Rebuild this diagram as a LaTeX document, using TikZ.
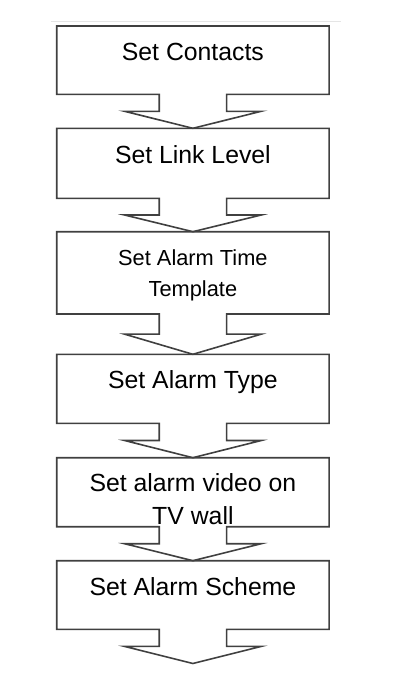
\documentclass[tikz,border=0pt]{standalone}
\usepackage{fontspec}
\setmainfont{Liberation Sans}
\usetikzlibrary{calc}
\tikzset{
  stepbox/.style={rectangle, anchor=north, minimum width=272.3pt, inner sep=0pt, outer sep=0pt},
  steptext/.style={anchor=base, align=center, inner sep=0pt, font=\fontsize{24.8}{32.3}\selectfont},
  outline/.style={draw=black!75, line width=1.6pt, line join=miter},
}
\begin{document}
\begin{tikzpicture}[x=1pt, y=-1pt]
  \useasboundingbox (0, 0) rectangle (400, 696);
  \draw[black!10, line width=0.8pt] (50.7, 21.5) -- (340.7, 21.5);

  % boxes, top to bottom
  \node (contacts) at (192.9, 26) [stepbox, minimum height=68.3pt] {};
  \node (link) at (192.9, 128.3) [stepbox, minimum height=70pt] {};
  \node (template) at (192.9, 231.7) [stepbox, minimum height=82.3pt] {};
  \node (type) at (192.9, 354.3) [stepbox, minimum height=69pt] {};
  \node (tvwall) at (192.9, 457.7) [stepbox, minimum height=69pt] {};
  \node (scheme) at (192.9, 560.7) [stepbox, minimum height=68.6pt] {};
  \node (end) at (192.9, 664) [inner sep=0pt, outer sep=0pt] {};

  % texts (base is the last line)
  \node (contactstxt) at ([yshift=-34.5pt]contacts.north) [steptext] {Set Contacts};
  \node (linktxt) at ([yshift=-34.8pt]link.north) [steptext] {Set Link Level};
  \node (templatetxt) at ([yshift=-65pt]template.north) [steptext, font=\fontsize{21.8}{31.7}\selectfont] {Set Alarm Time\\Template};
  \node (typetxt) at ([yshift=-34pt]type.north) [steptext] {Set Alarm Type};
  \node (tvwalltxt) at ([yshift=-66.3pt]tvwall.north) [steptext] {Set alarm video on\\TV wall};
  \node (schemetxt) at ([yshift=-34.3pt]scheme.north) [steptext] {Set Alarm Scheme};

  % box outlines with their arrows
  \foreach \a/\b in {contacts/link, link/template, template/type, type/tvwall, tvwall/scheme, scheme/end} {
    \coordinate (m) at ($(\a.south)!.5!(\b.north)$);
    \draw[outline] (\a.south west) -- (\a.north west) -- (\a.north east) -- (\a.south east)
      -- ($(\a.south)+(33.7,0)$) -- ($(m)+(33.7,0)$) -- ($(m)+(68.3,0)$) -- (\b.north)
      -- ($(m)+(-68.3,0)$) -- ($(m)+(-33.7,0)$) -- ($(\a.south)+(-33.7,0)$) -- cycle;
  }
\end{tikzpicture}
\end{document}
